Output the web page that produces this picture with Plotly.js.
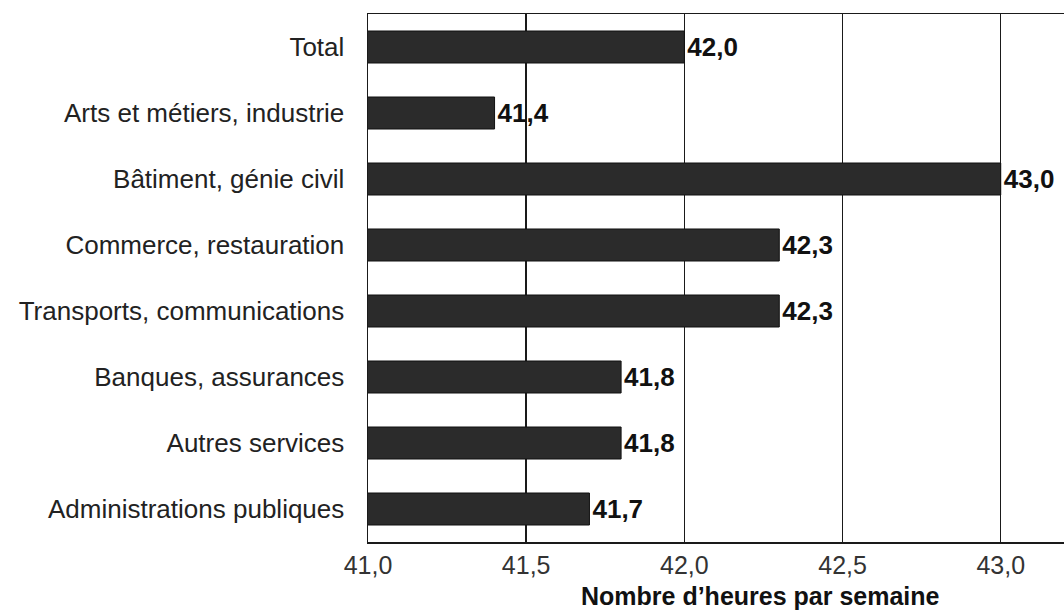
<!DOCTYPE html>
<html>
<head>
<meta charset="utf-8">
<script src="https://cdn.plot.ly/plotly-3.0.1.min.js"></script>
<style>html,body{margin:0;padding:0;background:#fff;}#chart{width:1064px;height:612px;}</style>
</head>
<body>
<div id="chart"></div>
<script>
const categories = [
  "Total",
  "Arts et métiers, industrie",
  "Bâtiment, génie civil",
  "Commerce, restauration",
  "Transports, communications",
  "Banques, assurances",
  "Autres services",
  "Administrations publiques"
];
const hours = [42.0, 41.4, 43.0, 42.3, 42.3, 41.8, 41.8, 41.7];
const xTicks = [41.0, 41.5, 42.0, 42.5, 43.0];
const xTitle = "Nombre d’heures par semaine";

const font = "Liberation Sans, Arial, Helvetica, sans-serif";

const trace = {
  type: "bar",
  orientation: "h",
  y: categories,
  x: hours,
  width: 0.485,
  marker: {color: "#2b2b2b", line: {color: "#111", width: 1}},
  texttemplate: "%{x:.1f}",
  textposition: "outside",
  cliponaxis: false,
  textfont: {family: font, size: 26, color: "#111", weight: "bold"},
  hoverinfo: "none"
};

const layout = {
  width: 1064,
  height: 612,
  margin: {l: 368, r: 0, t: 14, b: 70},
  paper_bgcolor: "#fff",
  plot_bgcolor: "#fff",
  separators: ", ",
  showlegend: false,
  font: {family: font, size: 26, color: "#222"},
  xaxis: {
    range: [41.0, 43.2],
    tickvals: xTicks,
    tickformat: ".1f",
    ticks: "",
    showgrid: true,
    gridcolor: "#1a1a1a",
    gridwidth: 1.5,
    zeroline: false,
    showline: true,
    mirror: true,
    linecolor: "#1a1a1a",
    linewidth: 1.5,
    tickfont: {family: font, size: 25, color: "#333"},
    ticklabelstandoff: 0,
    fixedrange: true
  },
  yaxis: {
    categoryorder: "array",
    categoryarray: categories,
    autorange: "reversed",
    ticks: "",
    showline: true,
    linecolor: "#1a1a1a",
    linewidth: 1.5,
    showgrid: false,
    ticklabelstandoff: 17,
    tickfont: {family: font, size: 26, color: "#222"},
    fixedrange: true
  },
  annotations: [{
    text: xTitle,
    xref: "paper",
    yref: "paper",
    x: (760 - 368) / 696,
    y: -0.102,
    xanchor: "center",
    yanchor: "middle",
    showarrow: false,
    font: {family: font, size: 25, color: "#111", weight: "bold"}
  }]
};

Plotly.newPlot("chart", [trace], layout, {staticPlot: true, displayModeBar: false});
</script>
</body>
</html>
